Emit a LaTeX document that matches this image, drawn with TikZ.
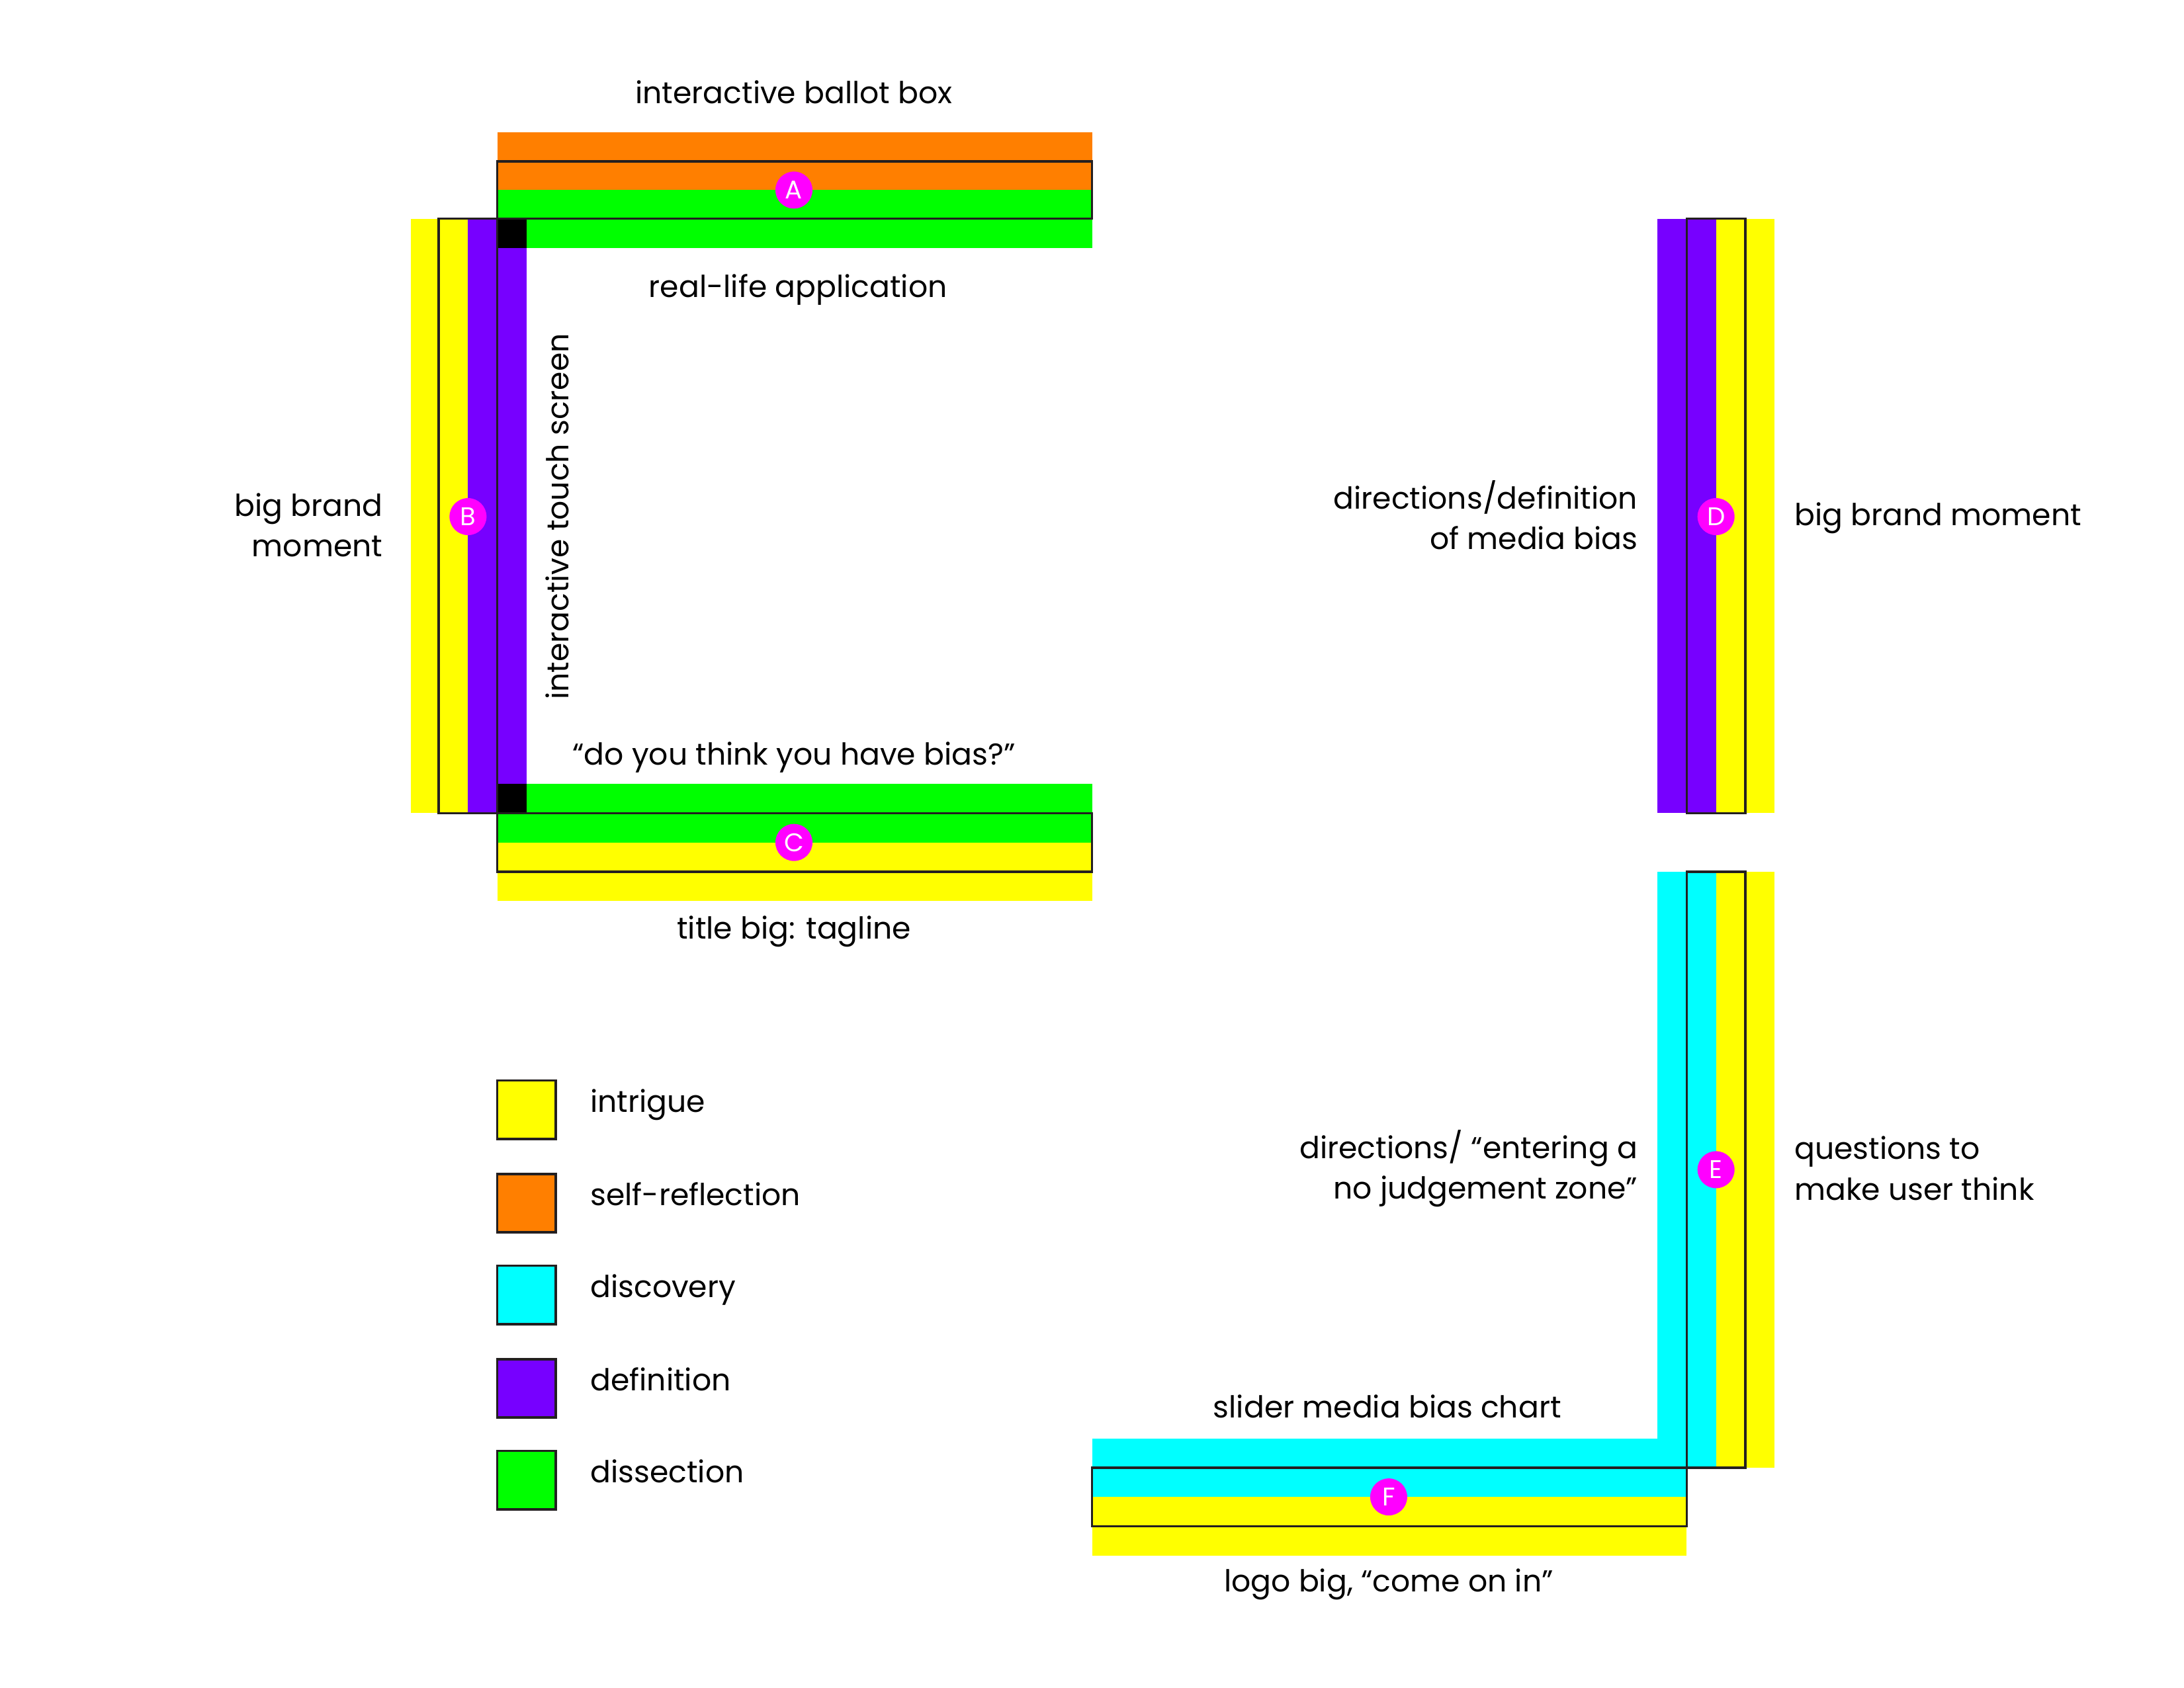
\documentclass[tikz,border=0pt]{standalone}
\usepackage{fontspec}
\setmainfont{Poppins}
\usetikzlibrary{positioning}
\definecolor{intrigue}{HTML}{FFFF00}
\definecolor{reflection}{HTML}{FF7F00}
\definecolor{discovery}{HTML}{00FFFF}
\definecolor{definition}{HTML}{7700FF}
\definecolor{dissection}{HTML}{00FF00}
\definecolor{badgepink}{HTML}{FF00FF}
\definecolor{outline}{HTML}{231F20}
\tikzset{
    %Define style for the framed zones
    zone/.style={
           draw=outline,
           line width=1pt},
    %Define style for the lettered markers
    badge/.style={
           circle,
           fill=badgepink,
           text=white,
           minimum size=0.56cm,
           inner sep=0pt,
           font=\fontsize{11}{11}\selectfont},
    note/.style={
           font=\fontsize{13}{17.4}\selectfont,
           inner sep=0pt},
    keybox/.style={
           rectangle,
           draw=outline,
           line width=1pt,
           minimum width=0.884cm,
           minimum height=0.884cm,
           inner sep=0pt},
    keytext/.style={
           font=\fontsize{13}{17.4}\selectfont,
           text height=0.75em,
           text depth=0.25em,
           yshift=1.4pt,
           inner sep=0pt}
}

\begin{document}
\begin{tikzpicture}[x=0.02105cm,y=-0.02105cm]
\useasboundingbox (0,0) rectangle (1568,1212);

 %zone A
\fill[reflection] (357,95) rectangle (784,116);
\fill[reflection] (357,116) rectangle (784,136.5);
\fill[dissection] (357,136.5) rectangle (784,157);
\fill[dissection] (378,157) rectangle (784,178);
 %zone B
\fill[intrigue] (295,157) rectangle (315,584);
\fill[intrigue] (315,157) rectangle (336,584);
\fill[definition] (336,157) rectangle (357,584);
\fill[definition] (357,178) rectangle (378,563);
\fill[black] (357,157) rectangle (378,178);
 %zone C
\fill[dissection] (378,563) rectangle (784,584);
\fill[black] (357,563) rectangle (378,584);
\fill[dissection] (357,584) rectangle (784,605);
\fill[intrigue] (357,605) rectangle (784,626);
\fill[intrigue] (357,626) rectangle (784,647);
 %zone D
\fill[definition] (1190,157) rectangle (1211,584);
\fill[definition] (1211,157) rectangle (1232,584);
\fill[intrigue] (1232,157) rectangle (1253,584);
\fill[intrigue] (1253,157) rectangle (1274,584);
 %zone E
\fill[discovery] (1190,626) rectangle (1211,1054);
\fill[discovery] (1211,626) rectangle (1232,1054);
\fill[intrigue] (1232,626) rectangle (1253,1054);
\fill[intrigue] (1253,626) rectangle (1274,1054);
 %zone F
\fill[discovery] (784,1033) rectangle (1190,1054);
\fill[discovery] (784,1054) rectangle (1211,1075);
\fill[intrigue] (784,1075) rectangle (1211,1096);
\fill[intrigue] (784,1096) rectangle (1211,1117);

 %frames
\draw[zone] (357,116) rectangle (784,157);
\draw[zone] (315,157) rectangle (357,584);
\draw[zone] (357,584) rectangle (784,626);
\draw[zone] (1211,157) rectangle (1253,584);
\draw[zone] (1211,626) rectangle (1253,1054);
\draw[zone] (784,1054) rectangle (1211,1096);

 %markers
\node[badge] (A) at (570,136.5) {A};
\node[badge] (B) at (336,371) {B};
\node[badge] (C) at (570,605) {C};
\node[badge] (D) at (1232,371) {D};
\node[badge] (E) at (1232,840) {E};
\node[badge] (F) at (997,1075) {F};

 %labels
\node[note] (ballot) at (570,66) {interactive ballot box};
\node[note] (reallife) at (573,208) {real-life application};
\node[note, rotate=90] (touch) at (400,371) {interactive touch screen};
\node[note, anchor=east, align=right] (brandB) at (275,377) {big brand\\moment};
\node[note] (bias) at (570,544) {“do you think you have bias?”};
\node[note] (title) at (570,669) {title big: tagline};
\node[note, anchor=east, align=right] (defin) at (1176,370) {directions/definition\\of media bias};
\node[note, anchor=west] (brandD) at (1288,372) {big brand moment};
\node[note, anchor=east, align=right] (zone) at (1176,839) {directions/ “entering a\\no judgement zone”};
\node[note, anchor=west, align=left] (questions) at (1288,839) {questions to\\make user think};
\node[note] (slider) at (996,1010) {slider media bias chart};
\node[note] (logo) at (997,1138) {logo big, “come on in”};

 %legend
\node[keybox, fill=intrigue] (key1) at (378,797) {};
\node[keybox, fill=reflection] (key2) at (378,864) {};
\node[keybox, fill=discovery] (key3) at (378,930) {};
\node[keybox, fill=definition] (key4) at (378,997) {};
\node[keybox, fill=dissection] (key5) at (378,1063) {};
\node[keytext, right=0.5cm of key1] (txt1) {intrigue};
\node[keytext, right=0.5cm of key2] (txt2) {self-reflection};
\node[keytext, right=0.5cm of key3] (txt3) {discovery};
\node[keytext, right=0.5cm of key4] (txt4) {definition};
\node[keytext, right=0.5cm of key5] (txt5) {dissection};

\end{tikzpicture}
\end{document}
